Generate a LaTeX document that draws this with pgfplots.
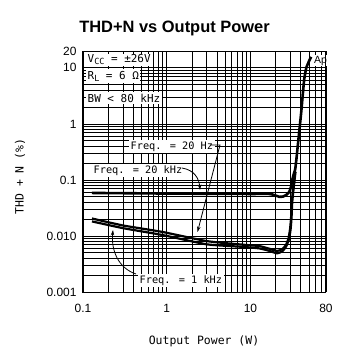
\documentclass[border=0pt]{standalone}
\usepackage{pgfplots}
\pgfplotsset{compat=1.18}
\usepackage{fontspec}
\setmainfont{Liberation Sans}
\newfontfamily\mono{DejaVu Sans Mono}
\usetikzlibrary{arrows.meta}

\pgfplotstableread{
x y
0.128 0.0586
0.3 0.0580
1 0.0572
3 0.0566
10 0.0562
16.8 0.0562
19.5 0.0535
22.1 0.0500
24.5 0.0505
27 0.0545
29.1 0.0610
30.5 0.0750
31.6 0.100
33 0.128
34.3 0.155
35.5 0.24
36.5 0.36
38.5 0.78
40.5 1.64
42.2 3.3
43.9 6.2
46.5 10
50.5 13.5
53.2 15.7
}\kHztwenty

\pgfplotstableread{
x y
0.128 0.0205
0.3 0.0154
0.89 0.0118
3.0 0.0081
8 0.0070
12.8 0.0066
17 0.0059
20.8 0.0054
24 0.0058
26.7 0.0070
28.6 0.0092
29.8 0.0135
30.6 0.021
31.2 0.040
32.5 0.075
34.3 0.140
}\Hztwenty

\pgfplotstableread{
x y
0.128 0.0182
0.3 0.0138
0.89 0.0104
3.0 0.0071
8 0.0064
12.8 0.0060
17 0.0054
20.8 0.0049
24 0.0053
26.7 0.0065
28.9 0.0088
30.2 0.0130
31.0 0.021
31.6 0.040
33 0.075
34.6 0.140
}\kHzone

\begin{document}
\begin{tikzpicture}
\begin{axis}[
    at={(0,0)}, anchor=south west, scale only axis,
    width=243bp, height=241bp,
    xmode=log, ymode=log,
    xmin=0.1, xmax=80, ymin=0.001, ymax=20,
    xtick={0.1,1,10,80},
    ytick={0.001,0.01,0.1,1,10,20},
    minor xtick={0.2,0.3,0.4,0.5,0.6,0.7,0.8,0.9,2,3,4,5,6,7,8,9,20,30,40,50,60,70},
    minor ytick={0.002,0.003,0.004,0.005,0.006,0.007,0.008,0.009,0.02,0.03,0.04,0.05,0.06,0.07,0.08,0.09,0.2,0.3,0.4,0.5,0.6,0.7,0.8,0.9,2,3,4,5,6,7,8,9},
    grid=both,
    major grid style={black, line width=0.75bp},
    minor grid style={black, line width=0.75bp},
    major tick length=0pt, minor tick length=0pt,
    axis line style={line width=1bp},
    xticklabels={0.1,1,10,80},
    yticklabels={0.001,0.010,0.1,1,10,20},
    tick label style={font=\fontsize{12}{12}\selectfont},
    xticklabel style={yshift=-9bp},
    yticklabel style={xshift=-3bp},
  ]
  \addplot[black, line width=2.6bp, smooth, tension=0.3] table[x=x,y=y] {\kHztwenty};
  \addplot[black, line width=2.2bp, smooth, tension=0.3] table[x=x,y=y] {\Hztwenty};
  \addplot[black, line width=2.2bp, smooth, tension=0.3] table[x=x,y=y] {\kHzone};
\end{axis}

\begin{scope}[x=1bp,y=-1bp,shift={(-83,-292)}]
  \node[anchor=base west, fill=white, inner sep=1.5bp, font=\mono\fontsize{11}{11}\selectfont] at (86,62)
    {V\raisebox{-0.35ex}{\fontsize{8.5}{8.5}\selectfont CC} = ±26V};
  \node[anchor=base west, fill=white, inner sep=1.5bp, font=\mono\fontsize{11}{11}\selectfont] at (86,79)
    {R\raisebox{-0.35ex}{\fontsize{8.5}{8.5}\selectfont L} = 6 Ω};
  \node[anchor=base west, fill=white, inner sep=1.5bp, font=\mono\fontsize{11}{11}\selectfont] at (86,102)
    {BW < 80 kHz};
  \node[anchor=base west, fill=white, inner sep=1bp, font=\fontsize{10.5}{10.5}\selectfont] at (313,63) {Ap};

  \node[anchor=base west, fill=white, inner sep=1.5bp, font=\mono\fontsize{10.3}{10.3}\selectfont] at (129,149) {Freq. = 20 Hz};
  \node[anchor=base west, fill=white, inner sep=1.5bp, font=\mono\fontsize{10.3}{10.3}\selectfont] at (92,173) {Freq. = 20 kHz};
  \node[anchor=base west, fill=white, inner sep=1.5bp, font=\mono\fontsize{10.3}{10.3}\selectfont] at (138,283) {Freq. = 1 kHz};

  \draw[line width=0.8bp, -{Stealth[length=5.5bp,width=3.5bp]}] (210,145) -- (220,145) -- (197.5,232);
  \draw[line width=0.8bp, -{Stealth[length=5.5bp,width=3.5bp]}] (182,168) .. controls (194,170) and (199,178) .. (200,190);
  \draw[line width=0.8bp, -{Stealth[length=5.5bp,width=3.5bp]}] (136,274) .. controls (118,268) and (111,250) .. (113,230);

  \node[anchor=base, font=\bfseries\fontsize{16.5}{16.5}\selectfont] at (174.5,32) {THD+N vs Output Power};
  \node[anchor=base, font=\mono\fontsize{11.5}{11.5}\selectfont] at (204,344) {Output Power (W)};
  \node[rotate=90, anchor=center, font=\mono\fontsize{11.5}{11.5}\selectfont] at (20,176.5) {THD + N (\%)};
\end{scope}

\begin{axis}[
    at={(0,0)}, anchor=south west, scale only axis,
    width=243bp, height=241bp,
    xmode=log, ymode=log,
    xmin=0.1, xmax=80, ymin=0.001, ymax=20,
    xtick={0.1,1,10,80},
    ytick={0.001,0.01,0.1,1,10,20},
    minor xtick={0.2,0.3,0.4,0.5,0.6,0.7,0.8,0.9,2,3,4,5,6,7,8,9,20,30,40,50,60,70},
    minor ytick={0.002,0.003,0.004,0.005,0.006,0.007,0.008,0.009,0.02,0.03,0.04,0.05,0.06,0.07,0.08,0.09,0.2,0.3,0.4,0.5,0.6,0.7,0.8,0.9,2,3,4,5,6,7,8,9},
    xticklabels={}, yticklabels={},
    tick align=inside,
    major tick length=4bp, minor tick length=3bp,
    tick style={black, line width=0.75bp},
    axis line style={line width=1bp},
  ]
\end{axis}
\pgfresetboundingbox
\path[use as bounding box] (-83bp,-62bp) rectangle (272bp,292bp);
\end{tikzpicture}
\end{document}
